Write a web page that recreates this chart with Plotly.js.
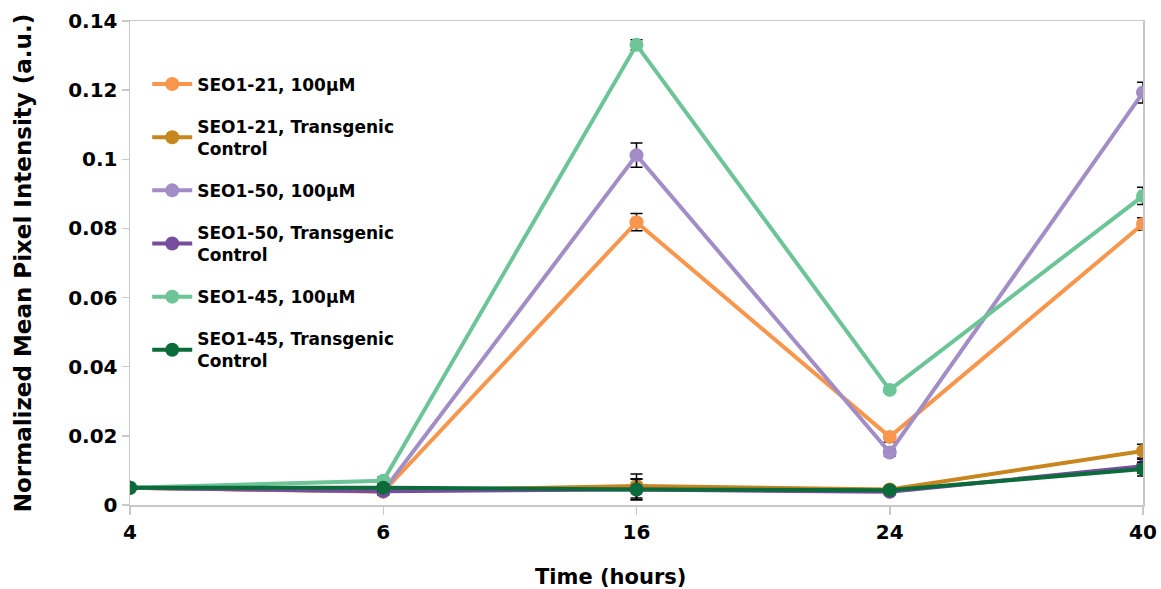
<!DOCTYPE html>
<html><head><meta charset="utf-8">
<script src="https://cdn.plot.ly/plotly-3.0.1.min.js"></script>
<style>body{margin:0;background:#fff}#c{width:1161px;height:589px}</style>
</head><body><div id="c"></div>
<script>
const times = ["4", "6", "16", "24", "40"];
const names = ["SEO1-21, 100µM", "SEO1-21, Transgenic<br>Control", "SEO1-50, 100µM", "SEO1-50, Transgenic<br>Control", "SEO1-45, 100µM", "SEO1-45, Transgenic<br>Control"];
const colors = ["#f7964c", "#c8861e", "#a38dc7", "#764d9f", "#6cc497", "#0b6b3b"];
const seo21_100 = [0.0050, 0.0038, 0.0818, 0.0197, 0.0813];
const seo21_tc = [0.0050, 0.0040, 0.0055, 0.0045, 0.0156];
const seo50_100 = [0.0050, 0.0040, 0.1012, 0.0152, 0.1193];
const seo50_tc = [0.0050, 0.0040, 0.0045, 0.0038, 0.0112];
const seo45_100 = [0.0050, 0.0070, 0.1331, 0.0333, 0.0894];
const seo45_tc = [0.0050, 0.0050, 0.0045, 0.0043, 0.0104];
const err21_100 = [0.0005, 0.0005, 0.0025, 0.0015, 0.0018];
const err21_tc = [0.0005, 0.0010, 0.0035, 0.0008, 0.0020];
const err50_100 = [0.0005, 0.0005, 0.0035, 0.0010, 0.0030];
const err50_tc = [0.0005, 0.0010, 0.0030, 0.0008, 0.0020];
const err45_100 = [0.0005, 0.0010, 0.0015, 0.0007, 0.0025];
const err45_tc = [0.0005, 0.0010, 0.0030, 0.0008, 0.0020];
const series = [seo21_100, seo21_tc, seo50_100, seo50_tc, seo45_100, seo45_tc];
const errs = [err21_100, err21_tc, err50_100, err50_tc, err45_100, err45_tc];

const traces = series.map((ys, i) => ({
  x: times, y: ys, name: names[i], type: 'scatter', mode: 'lines+markers',
  legendgroup: 'g' + i,
  line: {color: colors[i], width: 4},
  marker: {color: colors[i], size: 14},
  error_y: {type: 'data', array: errs[i], visible: true, color: '#000', thickness: 1.5, width: 6}
}));

const font = {family: 'DejaVu Sans, sans-serif', color: '#000'};
const layout = {
  width: 1161, height: 589,
  margin: {l: 130, r: 18, t: 21, b: 84},
  paper_bgcolor: '#fff', plot_bgcolor: '#fff',
  font: font,
  showlegend: true,
  legend: {x: 0.017, y: 0.906, xanchor: 'left', yanchor: 'top', bgcolor: 'rgba(0,0,0,0)',
           font: {family: 'DejaVu Sans, sans-serif', size: 17, color: '#000', weight: 'bold'},
           tracegroupgap: 17, itemwidth: 40},
  xaxis: {type: 'category', range: [0, 4], showgrid: false, zeroline: false,
          showline: true, linecolor: '#c8c8c8', linewidth: 1.5, mirror: true,
          ticks: 'outside', ticklen: 8, tickcolor: '#c8c8c8', tickwidth: 1.5,
          tickfont: {size: 20, weight: 'bold', color: '#000'}},
  yaxis: {range: [0, 0.14], dtick: 0.02, showgrid: false, zeroline: false,
          showline: true, linecolor: '#c8c8c8', linewidth: 1.5, mirror: true,
          ticks: 'outside', ticklen: 7, tickcolor: '#c8c8c8', tickwidth: 1.5,
          tickfont: {size: 20, weight: 'bold', color: '#000'},
          title: {text: 'Normalized Mean Pixel Intensity (a.u.)', font: {size: 23, weight: 'bold', color: '#000'}, standoff: 30}},
  annotations: [{text: 'Time (hours)', xref: 'paper', yref: 'paper', x: 0.474, y: -0.149,
                 xanchor: 'center', yanchor: 'middle', showarrow: false,
                 font: {size: 21, weight: 'bold', color: '#000', family: 'DejaVu Sans, sans-serif'}}]
};
Plotly.newPlot('c', traces, layout, {displayModeBar: false, staticPlot: true});
</script></body></html>
